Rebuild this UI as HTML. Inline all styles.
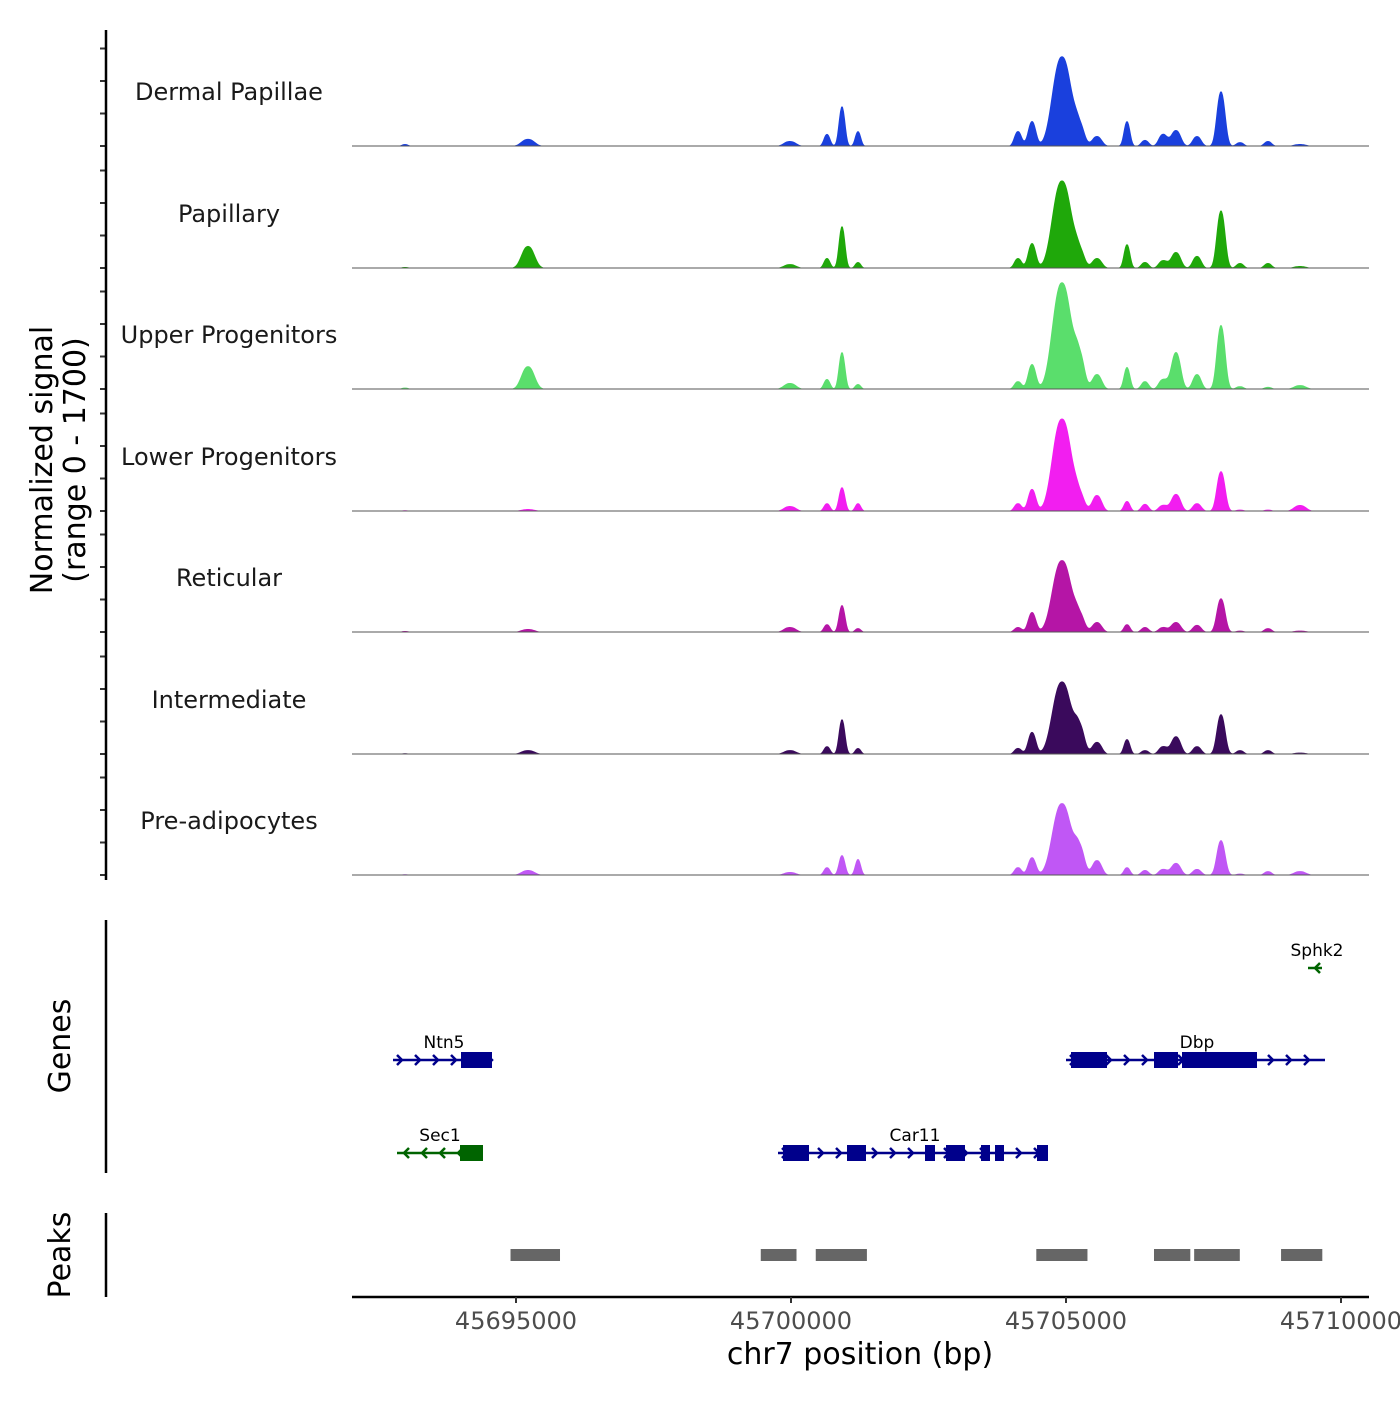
<!DOCTYPE html>
<html><head><meta charset="utf-8"><style>
body{margin:0;background:#fff;font-family:"Liberation Sans","DejaVu Sans",sans-serif}
svg text{font-family:"DejaVu Sans","Liberation Sans",sans-serif}
</style></head><body>
<svg id="c" width="1400" height="1400" viewBox="0 0 1400 1400"></svg>
<script>
// Data arrays
const trackNames=["Dermal Papillae","Papillary","Upper Progenitors","Lower Progenitors","Reticular","Intermediate","Pre-adipocytes"];
const trackColors=["#1a40dd","#1fa80a","#5ade6c","#f21ef0","#b515a6","#3a0a5c","#c057f5"];
const peakCenters=[45692982,45695218,45699981,45700654,45700927,45701218,45704127,45704382,45704927,45705254,45705563,45706109,45706436,45706763,45707000,45707381,45707818,45708163,45708672,45709254];
const peakWidths=[60,120,110,60,60,55,70,75,175,90,90,60,70,80,90,80,80,70,70,110];
const dermal=[28,100,70,170,560,210,210,350,1260,250,140,350,85,170,225,140,770,55,70,28];
const papillary=[14,310,55,140,590,85,140,350,1230,210,140,335,85,110,225,170,810,70,70,28];
const upper=[20,320,85,140,520,70,110,350,1500,420,210,310,110,140,520,210,900,40,30,55];
const lower=[10,28,70,110,335,110,110,310,1300,195,225,140,100,85,240,110,560,20,20,85];
const reticular=[14,42,70,110,380,55,70,280,1010,210,140,110,70,70,140,100,475,20,55,20];
const intermediate=[10,55,55,110,490,85,85,310,1020,350,170,210,55,110,250,110,560,55,55,20];
const preadip=[10,70,42,110,280,225,110,250,1010,350,210,110,70,85,170,85,490,20,55,55];
const trackValues=[dermal,papillary,upper,lower,reticular,intermediate,preadip];
const xTicks=[45695000,45700000,45705000,45710000];
const peakRegions=[[45694900,45695800],[45699450,45700100],[45700450,45701380],[45704460,45705390],[45706600,45707260],[45707330,45708160],[45708910,45709660]];

const NS="http://www.w3.org/2000/svg",svg=document.getElementById('c');
const X0=45692018,X1=45710509,PX0=352,PX1=1369;
const sx=b=>PX0+(b-X0)/(X1-X0)*(PX1-PX0);
const baselines=[146,268,389,511,632,754,875];
const trackH=121,maxSig=1700;
const sy=(v,i)=>baselines[i]-v/maxSig*trackH;
function el(t,a,p){const e=document.createElementNS(NS,t);for(const k in a)e.setAttribute(k,a[k]);(p||svg).appendChild(e);return e;}

trackValues.forEach((vals,i)=>{
  const g=el('g',{});
  
  
  let d='M'+PX0+' '+baselines[i];
  for(let px=PX0;px<=PX1;px++){
    const b=X0+(px-PX0)/(PX1-PX0)*(X1-X0);let v=0;
    peakCenters.forEach((c,k)=>{const z=(b-c)/peakWidths[k];v+=vals[k]*Math.exp(-Math.pow(Math.abs(z),2.4)/2);});
    d+=' L'+px+' '+sy(Math.min(v,maxSig),i).toFixed(1);
  }
  d+=' L'+PX1+' '+baselines[i]+'Z';
  const p=el('path',{d:d,fill:trackColors[i]},g);
  
  
  el('line',{x1:PX0,x2:PX1,y1:baselines[i],y2:baselines[i],stroke:'#555','stroke-width':1},g);
  const t=el('text',{x:229,y:baselines[i]-46,'text-anchor':'middle','font-size':24,fill:'#1a1a1a'},g);
  t.textContent=trackNames[i];
  
  
  for(let k=0;k<4;k++)el('line',{x1:100,x2:106,y1:baselines[i]-k*32.5,y2:baselines[i]-k*32.5,stroke:'#333','stroke-width':2});
});
el('line',{x1:106,x2:106,y1:30,y2:880,stroke:'#000','stroke-width':2.5});
el('line',{x1:106,x2:106,y1:920,y2:1173,stroke:'#000','stroke-width':2.5});
el('line',{x1:106,x2:106,y1:1213,y2:1297,stroke:'#000','stroke-width':2.5});
function rt(txt,x,y,name){const t=el('text',{x:x,y:y,'text-anchor':'middle','font-size':30,transform:`rotate(-90 ${x} ${y})`,fill:'#000'});t.textContent=txt;}
rt('Normalized signal',52,460,'y-axis-title');rt('(range 0 - 1700)',85,460,'y-axis-range');
rt('Genes',70,1046,'genes-title');rt('Peaks',70,1255,'peaks-title');

// Genes
function gene(name,y,x1,x2,boxes,dir,col,lx,ly){
  const g=el('g',{});
  el('line',{x1:x1,x2:x2,y1:y,y2:y,stroke:col,'stroke-width':2.5},g);
  for(let x=x1+8;x<=x2;x+=18){el('path',{d:dir>0?`M${x-4} ${y-5} L${x+1} ${y} L${x-4} ${y+5}`:`M${x+4} ${y-5} L${x-1} ${y} L${x+4} ${y+5}`,stroke:col,fill:'none','stroke-width':2.5},g);}
  boxes.forEach(b=>el('rect',{x:b[0],y:y-8,width:b[1]-b[0],height:16,fill:col},g));
  const t=el('text',{x:lx,y:ly,'text-anchor':'middle','font-size':17,fill:'#000'},g);t.textContent=name;
}
gene('Ntn5',1060,393,492,[[461,492]],1,'#00008b',444,1048);
gene('Dbp',1060,1066,1325,[[1071,1107],[1154,1178],[1182,1257]],1,'#00008b',1197,1048);
gene('Sec1',1153,397,483,[[460,483]],-1,'#006400',440,1141);
gene('Car11',1153,778,1048,[[783,809],[847,866],[925,935],[946,965],[981,990],[995,1004],[1037,1048]],1,'#00008b',915,1141);
gene('Sphk2',968,1308,1322,[],-1,'#006400',1317,956);

// Peaks
peakRegions.forEach(r=>{const e=el('rect',{x:sx(r[0]),y:1249,width:sx(r[1])-sx(r[0]),height:12,fill:'#666'});});

// X axis
el('line',{x1:PX0,x2:PX1,y1:1297,y2:1297,stroke:'#000','stroke-width':2.5});
xTicks.forEach(v=>{const x=sx(v);el('line',{x1:x,x2:x,y1:1297,y2:1303,stroke:'#333','stroke-width':2});
  const t=el('text',{x:x,y:1329,'text-anchor':'middle','font-size':24,fill:'#4d4d4d'});t.textContent=v;});
const xt=el('text',{x:860,y:1364,'text-anchor':'middle','font-size':30,fill:'#000'});xt.textContent='chr7 position (bp)';


</script>
</body></html>
